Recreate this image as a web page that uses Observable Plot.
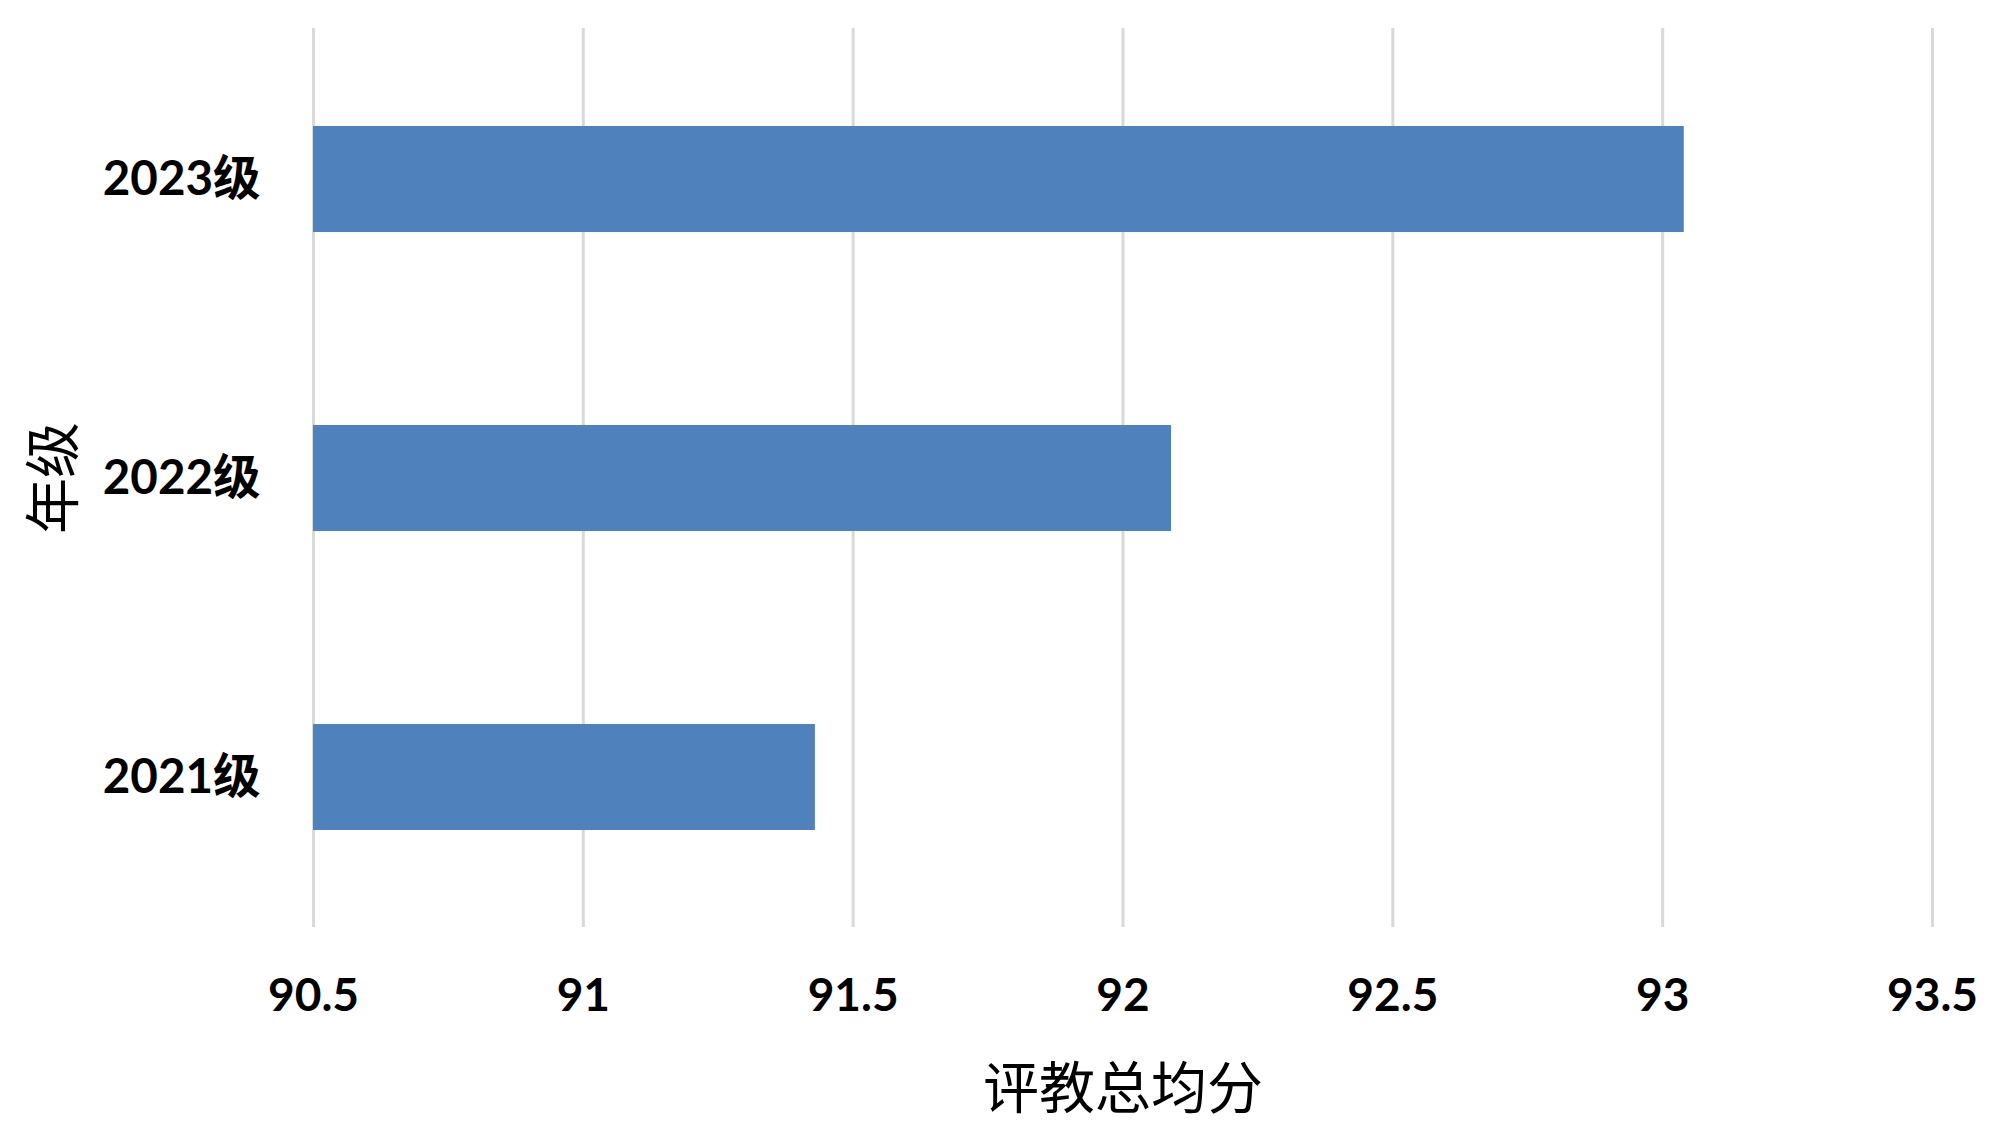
<!DOCTYPE html>
<html>
<head>
<meta charset="utf-8">
<script src="https://cdn.jsdelivr.net/npm/d3@7"></script>
<script src="https://cdn.jsdelivr.net/npm/@observablehq/plot@0.6"></script>
<style>
  html, body { margin: 0; padding: 0; background: #fff; }
  #chart svg { display: block; }
</style>
</head>
<body>
<div id="chart"></div>
<script>
const grades = ["2023级", "2022级", "2021级"];
const scores = [93.04, 92.09, 91.43];
const xTicks = [90.5, 91, 91.5, 92, 92.5, 93, 93.5];
const xMin = 90.5, xMax = 93.5;
const xTitle = "评教总均分";
const yTitle = "年级";

const data = grades.map((g, i) => ({grade: g, score: scores[i]}));

const chart = Plot.plot({
  width: 2000,
  height: 1141,
  marginLeft: 313,
  marginRight: 68,
  marginTop: 28,
  marginBottom: 214,
  style: {background: "#fff", color: "#000"},
  x: {domain: [xMin, xMax]},
  y: {domain: grades, paddingInner: 0.647, paddingOuter: 0.3235},
  marks: [
    Plot.gridX(xTicks, {stroke: "#d9d9d9", strokeWidth: 3, strokeOpacity: 1}),
    Plot.barX(data, {y: "grade", x1: () => xMin, x2: "score", fill: "#4f81bd"}),
    Plot.axisX(xTicks, {
      tickSize: 0, tickPadding: 51, tickFormat: d => String(d),
      fontSize: 46, fontWeight: "bold", fontFamily: "Lato, 'Noto Sans CJK SC', sans-serif",
      label: null
    }),
    Plot.axisX({
      ticks: [], tickSize: 0, label: xTitle, labelAnchor: "center", labelArrow: "none",
      labelOffset: 180, fontSize: 56, fontFamily: "'Noto Sans CJK SC', sans-serif"
    }),
    Plot.axisY({
      tickSize: 0, tickPadding: 53,
      fontSize: 47.5, fontWeight: "bold", fontFamily: "Lato, 'Noto Sans CJK SC', sans-serif",
      label: null
    }),
    Plot.axisY({
      ticks: [], tickSize: 0, label: yTitle, labelAnchor: "center", labelArrow: "none",
      labelOffset: 280, fontSize: 56, fontFamily: "'Noto Sans CJK SC', sans-serif"
    })
  ]
});
document.getElementById("chart").appendChild(chart);
</script>
</body>
</html>
